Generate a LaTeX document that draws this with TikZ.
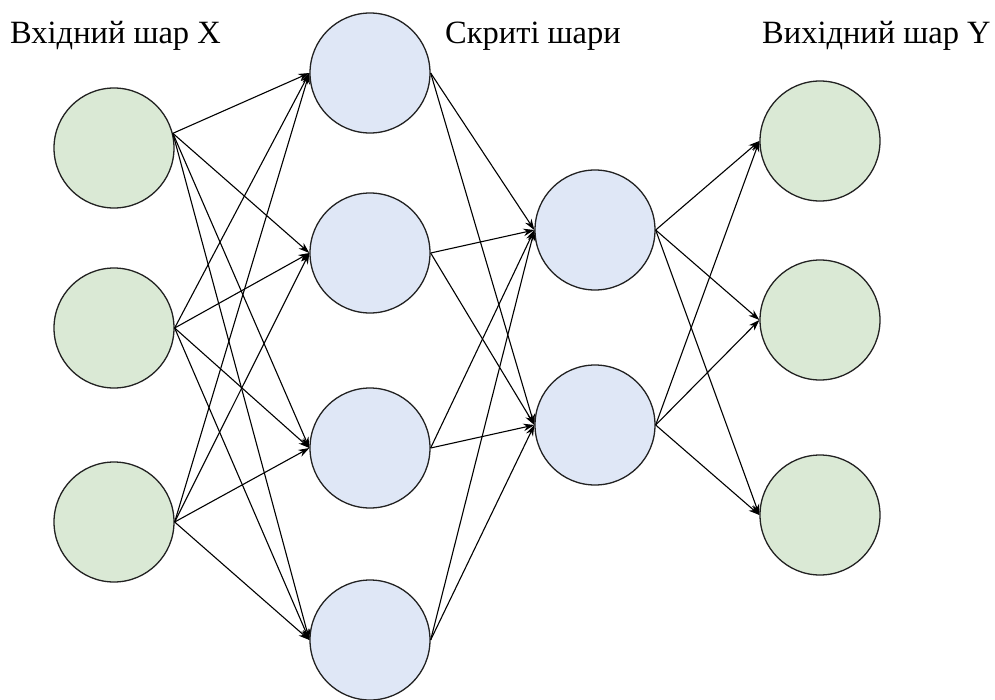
\documentclass[tikz,border=0pt]{standalone}
\usepackage{fontspec}
\setmainfont{Liberation Serif}
\usetikzlibrary{arrows.meta}
\definecolor{ingreen}{HTML}{DAE9D5}
\definecolor{hidblue}{HTML}{DFE7F6}
\definecolor{rim}{HTML}{222222}
\begin{document}
\begin{tikzpicture}[x=1pt,y=-1pt,
  neuron/.style={circle,draw=rim,line width=1.3pt,minimum size=120pt,inner sep=0pt},
  innode/.style={neuron,fill=ingreen},
  hidnode/.style={neuron,fill=hidblue},
  outnode/.style={neuron,fill=ingreen},
  link/.style={line width=1.1pt,-{Stealth[length=11pt,width=7.5pt]}},
  caption/.style={anchor=base west,inner sep=0pt,font=\fontsize{32.5}{38}\selectfont}
]
\useasboundingbox (0,0) rectangle (995,699);
\fill[white] (0,0) rectangle (995,699);

% layer captions
\node[caption] (capin)  at (10,43)  {Вхідний шар X};
\node[caption] (caphid) at (445,43) {Скриті шари};
\node[caption] (capout) at (762,43) {Вихідний шар Y};

% input layer
\node[innode] (i1) at (114,148) {};
\node[innode] (i2) at (114,328) {};
\node[innode] (i3) at (114,522) {};

% first hidden layer
\node[hidnode] (a1) at (370,73)  {};
\node[hidnode] (a2) at (370,253) {};
\node[hidnode] (a3) at (370,448) {};
\node[hidnode] (a4) at (370,640) {};

% second hidden layer
\node[hidnode] (b1) at (595,230) {};
\node[hidnode] (b2) at (595,425) {};

% output layer
\node[outnode] (o1) at (820,141) {};
\node[outnode] (o2) at (820,320) {};
\node[outnode] (o3) at (820,515) {};

% input -> hidden 1
\foreach \t in {a1,a2,a3,a4} {
  \draw[link] (i1.14) -- (\t.west);
  \draw[link] (i2.east) -- (\t.west);
  \draw[link] (i3.east) -- (\t.west);
}
% hidden 1 -> hidden 2
\foreach \s in {a1,a2,a3,a4} {
  \draw[link] (\s.east) -- (b1.west);
  \draw[link] (\s.east) -- (b2.west);
}
% hidden 2 -> output
\foreach \t in {o1,o2,o3} {
  \draw[link] (b1.east) -- (\t.west);
  \draw[link] (b2.east) -- (\t.west);
}
\end{tikzpicture}
\end{document}
